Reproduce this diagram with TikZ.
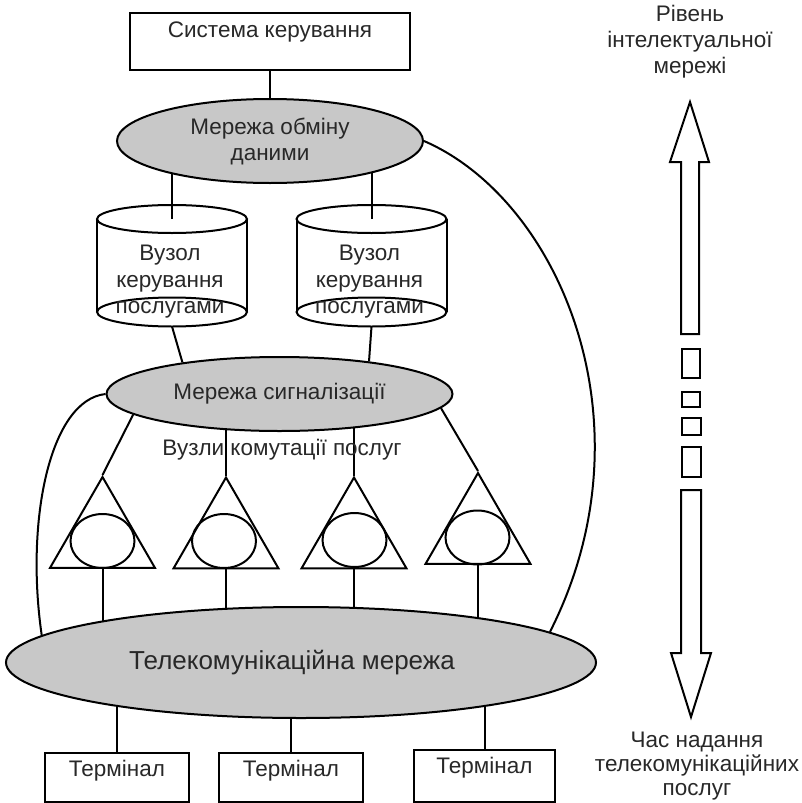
\documentclass[tikz,border=0pt]{standalone}
\usepackage{fontspec}
\setmainfont{Liberation Sans}
\usetikzlibrary{shapes.geometric}
\pgfdeclarelayer{shapes}
\pgfdeclarelayer{links}
\pgfsetlayers{shapes,links,main}
\definecolor{netgray}{RGB}{200,200,200}
\definecolor{ink}{RGB}{40,40,40}
\begin{document}
\begin{tikzpicture}[x=1pt,y=-1pt,
  line width=2pt,
  font=\fontsize{22.5}{26}\selectfont,
  every node/.style={text=ink},
  outline/.style={draw, line width=2pt},
  net/.style={ellipse, outline, fill=netgray, inner sep=0pt},
  box/.style={rectangle, outline, fill=white, inner sep=0pt},
  switchtri/.style={regular polygon, regular polygon sides=3, outline, fill=white,
                    inner sep=0pt, minimum size=121},
  core/.style={ellipse, outline, inner sep=0pt, minimum width=64, minimum height=54},
  link/.style={draw, line width=2pt},
  hollow/.style={draw, fill=white, line width=2pt, line join=miter}
]
\useasboundingbox (0,0) rectangle (802,803);

% control system box
\node[box, minimum width=280, minimum height=57, text height=24, text depth=33]
  (ctrl) at (270,41.5) {Система керування};

% gray networks
\node[net, minimum width=306, minimum height=84, align=center]
  (data) at (270,141) {Мережа обміну\\даними};
\node[net, minimum width=346, minimum height=74]
  (sig) at (279.5,394) {Мережа сигналізації};
\node[net, minimum width=590, minimum height=111]
  (tel) at (301,662.5) {};
\node[font=\fontsize{26}{30}\selectfont] (tellabel) at (292,663) {Телекомунікаційна мережа};

% service control nodes (cylinders)
\foreach \cx/\nm in {172/svc1, 371.5/svc2} {
  \begin{pgfonlayer}{shapes}
    \fill[white] (\cx-75,219) rectangle (\cx+75,312);
    \fill[white] (\cx,312) ellipse[x radius=75, y radius=14.5];
    \draw[outline] (\cx,219) ellipse[x radius=75, y radius=14];
    \draw[outline] (\cx,312) ellipse[x radius=75, y radius=14.5];
    \draw[outline] (\cx-75,219) -- (\cx-75,312);
    \draw[outline] (\cx+75,219) -- (\cx+75,312);
  \end{pgfonlayer}
  \coordinate (\nm-top) at (\cx,219);
  \coordinate (\nm-bot) at (\cx,326.5);
  \node[align=center, font=\fontsize{22.5}{26.5}\selectfont] (\nm) at (\cx-2,282)
    {Вузол\\керування\\послугами};
}

% service switching nodes
\node[switchtri] (sw1) at (102.5,537.5) {};
\node[switchtri] (sw2) at (226,538) {};
\node[switchtri] (sw3) at (354,538) {};
\node[switchtri] (sw4) at (478,533.5) {};
\node[core] (c1) at (102.5,541) {};
\node[core] (c2) at (224,541) {};
\node[core] (c3) at (354.5,540) {};
\node[core] (c4) at (477.5,537.5) {};
\node (swlabel) at (282,450) {Вузли комутації послуг};

% terminals
\node[box, minimum width=144, minimum height=49, text height=23, text depth=26]
  (t1) at (117,777.5) {Термінал};
\node[box, minimum width=144, minimum height=49, text height=23, text depth=26]
  (t2) at (291,777.5) {Термінал};
\node[box, minimum width=141, minimum height=52, text height=23, text depth=29]
  (t3) at (484.5,776) {Термінал};

% connectors
\begin{pgfonlayer}{links}
  \draw[link] (ctrl.south) -- (ctrl.south |- data.center);
  \draw[link] (svc1-top) -- (svc1-top |- data.center);
  \draw[link] (svc2-top) -- (svc2-top |- data.center);
  \draw[link] (svc1-bot) -- (sig.162);
  \draw[link] (svc2-bot) -- (sig.20);
  \draw[link] (sw1.corner 1) -- (sig.188.4);
  \draw[link] (sw2.corner 1) -- (sw2.corner 1 |- sig.center);
  \draw[link] (sw3.corner 1) -- (sw3.corner 1 |- sig.center);
  \draw[link] (sw4.corner 1) -- (sig.355.8);
  \foreach \s in {sw1,sw2,sw3,sw4}
    \draw[link] (\s.side 2) -- (\s.side 2 |- tel.center);
  \foreach \t in {t1,t2,t3}
    \draw[link] (\t.north) -- (\t.north |- tel.center);
  \draw[link] (sig.west) .. controls (50,400) and (25,520) .. (tel.174.8);
  \draw[link] (data.east) .. controls (560,200) and (655,425) .. (tel.7);
\end{pgfonlayer}

% level / time scale
\draw[hollow] (681,334) -- (681,162) -- (670,162) -- (690,102) -- (709,162)
  -- (699,162) -- (699,334) -- cycle;
\draw[hollow] (682,349) rectangle (700,378);
\draw[hollow] (682,392) rectangle (700,407);
\draw[hollow] (682,418) rectangle (701,435);
\draw[hollow] (682,447) rectangle (701,477);
\draw[hollow] (681,490) -- (681,653) -- (671,653) -- (691,717) -- (711,653)
  -- (701,653) -- (701,490) -- cycle;
\node[align=center, font=\fontsize{22.5}{26}\selectfont] (lvl) at (690,42) {Рівень\\інтелектуальної\\мережі};
\node[align=center, font=\fontsize{22.5}{24}\selectfont] (svctime) at (697,766) {Час надання\\телекомунікаційних\\послуг};
\end{tikzpicture}
\end{document}
